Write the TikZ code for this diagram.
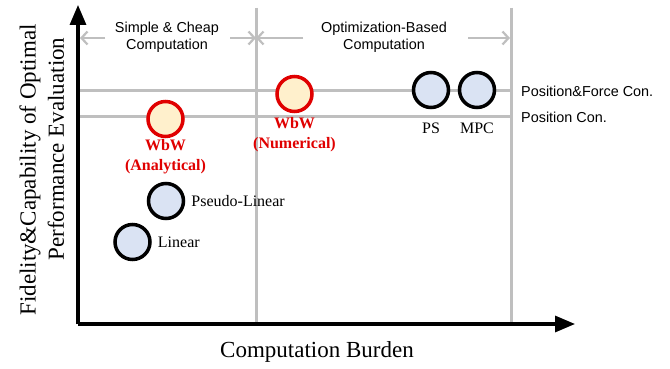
\documentclass[tikz,border=0pt]{standalone}
\usepackage{fontspec}
\setmainfont{Liberation Serif}
\setsansfont{Liberation Sans}
\usetikzlibrary{arrows.meta}
\definecolor{gridgray}{HTML}{BFBFBF}
\definecolor{bluefill}{HTML}{DAE3F3}
\definecolor{creamfill}{HTML}{FFF0CC}
\definecolor{wbwred}{HTML}{E00000}
\begin{document}
\begin{tikzpicture}[x=1pt,y=-1pt,
 grid/.style={gridgray,line width=3pt},
 axis/.style={black,line width=3.2pt,-{Triangle[length=20pt,width=16pt]}},
 span/.style={gridgray,line width=2.2pt,-{Straight Barb[length=6pt,width=13pt]}},
 bluec/.style={circle,draw=black,fill=bluefill,line width=3.5pt,minimum size=35pt,inner sep=0pt},
 redc/.style={circle,draw=wbwred,fill=creamfill,line width=3.5pt,minimum size=35pt,inner sep=0pt},
 lab/.style={font=\fontsize{16}{19}\selectfont,inner sep=0pt},
 redlab/.style={text=wbwred,font=\fontsize{16}{20}\selectfont\bfseries,align=center,inner sep=0pt},
 toplab/.style={font=\sffamily\fontsize{14.4}{17}\selectfont,align=center,inner sep=0pt},
 sidelab/.style={font=\sffamily\fontsize{14.4}{17}\selectfont,anchor=west,inner sep=0pt},
 axlab/.style={font=\fontsize{23}{27}\selectfont,inner sep=0pt}]
\useasboundingbox (0,0) rectangle (670,369);
\fill[white] (0,0) rectangle (670,369);
% coordinates
\coordinate (O) at (78,324);
\coordinate (ytip) at (78,5);
\coordinate (xtip) at (575,324);
\coordinate (v1t) at (256,8);
\coordinate (v1b) at (256,324);
\coordinate (v2t) at (511,8);
\coordinate (v2b) at (511,324);
\coordinate (h1l) at (78,91);
\coordinate (h1r) at (511,91);
\coordinate (h2l) at (78,117);
\coordinate (h2r) at (511,117);
\coordinate (a1s) at (105,38);
\coordinate (a1e) at (80,38);
\coordinate (a2s) at (230,38);
\coordinate (a2m) at (256,38);
\coordinate (a2e) at (303,38);
\coordinate (a3s) at (468,38);
\coordinate (a3e) at (510,38);
% grid
\draw[grid] (v1t) -- (v1b);
\draw[grid] (v2t) -- (v2b);
\draw[grid] (h1l) -- (h1r);
\draw[grid] (h2l) -- (h2r);
% span arrows
\draw[span] (a1s) -- (a1e);
\draw[span] (a2s) -- (a2m);
\draw[span] (a2e) -- (a2m);
\draw[span] (a3s) -- (a3e);
% axes
\draw[axis] (O) -- (ytip);
\draw[axis] (O) -- (xtip);
% top labels
\node[toplab] (simple) at (167,37) {Simple \& Cheap\\Computation};
\node[toplab] (opt) at (384,37) {Optimization-Based\\Computation};
% side labels
\node[sidelab] (pfc) at (521,91) {Position\&Force Con.};
\node[sidelab] (pc) at (521,117) {Position Con.};
% circles
\node[redc] (wbwa) at (165.5,119) {};
\node[redc] (wbwn) at (294.5,94) {};
\node[bluec] (ps) at (431,90) {};
\node[bluec] (mpc) at (477,90) {};
\node[bluec] (plin) at (166,201) {};
\node[bluec] (lin) at (132.5,242) {};
% circle labels
\node[redlab] (wbwal) at (165.5,157) {WbW\\(Analytical)};
\node[redlab] (wbwnl) at (294.5,135) {WbW\\(Numerical)};
\node[lab] (psl) at (431,128) {PS};
\node[lab] (mpcl) at (477,128) {MPC};
\node[lab,anchor=west] (plinl) at ([xshift=6pt]plin.east) {Pseudo-Linear};
\node[lab,anchor=west] (linl) at ([xshift=6pt]lin.east) {Linear};
% axis labels
\node[axlab] (xl) at (317,352) {Computation Burden};
\node[axlab,rotate=90] (yl1) at (30,170) {Fidelity\&Capability of Optimal};
\node[axlab,rotate=90] (yl2) at (56,149) {Performance Evaluation};
\end{tikzpicture}
\end{document}
